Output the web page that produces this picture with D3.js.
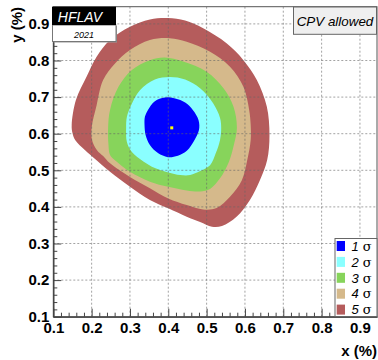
<!DOCTYPE html>
<html>
<head>
<meta charset="utf-8">
<script src="https://cdn.jsdelivr.net/npm/d3@7"></script>
<style>
body { margin: 0; background: #fff; }
svg { display: block; font-family: "Liberation Sans", Arial, Helvetica, sans-serif; }
</style>
</head>
<body>
<svg id="chart" width="378" height="360"></svg>
<script>
// contour outlines, [x (%), y (%)]
const sigma5 = [[0.148,0.624],[0.150,0.602],[0.157,0.583],[0.183,0.555],[0.209,0.531],[0.248,0.496],
  [0.300,0.455],[0.352,0.419],[0.400,0.396],[0.448,0.373],[0.483,0.359],[0.514,0.346],[0.540,0.348],
  [0.578,0.373],[0.613,0.419],[0.639,0.473],[0.658,0.528],[0.664,0.596],[0.657,0.674],[0.631,0.747],
  [0.596,0.801],[0.552,0.847],[0.491,0.888],[0.444,0.909],[0.399,0.916],[0.352,0.912],[0.300,0.892],
  [0.248,0.856],[0.213,0.810],[0.187,0.756],[0.159,0.692]];
const sigma4 = [[0.200,0.616],[0.201,0.583],[0.214,0.555],[0.230,0.539],[0.248,0.519],[0.300,0.482],
  [0.352,0.451],[0.400,0.423],[0.448,0.405],[0.491,0.393],[0.526,0.397],[0.561,0.428],[0.592,0.473],
  [0.606,0.528],[0.615,0.583],[0.615,0.624],[0.611,0.665],[0.596,0.728],[0.561,0.783],[0.509,0.824],
  [0.448,0.851],[0.404,0.861],[0.352,0.856],[0.300,0.829],[0.261,0.792],[0.230,0.747],[0.213,0.678]];
const sigma3 = [[0.243,0.616],[0.244,0.569],[0.248,0.542],[0.264,0.525],[0.300,0.496],[0.352,0.469],
  [0.400,0.455],[0.448,0.445],[0.483,0.442],[0.509,0.449],[0.535,0.478],[0.558,0.523],[0.571,0.569],
  [0.579,0.616],[0.570,0.674],[0.544,0.724],[0.500,0.769],[0.439,0.797],[0.391,0.808],[0.352,0.801],
  [0.305,0.774],[0.270,0.728],[0.248,0.665]];
const sigma2 = [[0.290,0.616],[0.292,0.577],[0.305,0.550],[0.335,0.524],[0.365,0.506],[0.400,0.494],
  [0.431,0.487],[0.457,0.487],[0.483,0.498],[0.509,0.514],[0.524,0.547],[0.535,0.583],[0.538,0.616],
  [0.535,0.643],[0.517,0.683],[0.483,0.724],[0.444,0.748],[0.404,0.755],[0.365,0.748],[0.326,0.719],
  [0.303,0.678],[0.292,0.646]];
const sigma1 = [[0.338,0.624],[0.341,0.596],[0.352,0.569],[0.373,0.547],[0.399,0.536],[0.425,0.540],
  [0.449,0.554],[0.467,0.580],[0.480,0.610],[0.479,0.637],[0.464,0.665],[0.444,0.685],[0.418,0.696],
  [0.391,0.699],[0.365,0.689],[0.347,0.665],[0.339,0.646]];
const center = [0.409, 0.616];

const xTicks = [0.1, 0.2, 0.3, 0.4, 0.5, 0.6, 0.7, 0.8, 0.9];
const yTicks = [0.1, 0.2, 0.3, 0.4, 0.5, 0.6, 0.7, 0.8, 0.9];
const legendLabels = ["1", "2", "3", "4", "5"];

const fills = ["#0000ff", "#8affff", "#87d45b", "#d5b98b", "#b55c5c"];

const svg = d3.select("#chart");
const margin = {top: 6.7, right: 1, bottom: 43.3, left: 53.3};
const width = 378 - margin.left - margin.right;
const height = 360 - margin.top - margin.bottom;

const x = d3.scaleLinear().domain([0.1, 0.9445]).range([0, width]);
const y = d3.scaleLinear().domain([0.1, 0.947]).range([height, 0]);

const g = svg.append("g").attr("transform", `translate(${margin.left},${margin.top})`);

g.append("clipPath").attr("id", "clip")
  .append("rect").attr("width", width).attr("height", height);

const plot = g.append("g").attr("clip-path", "url(#clip)");

const line = d3.line().x(d => x(d[0])).y(d => y(d[1])).curve(d3.curveCatmullRomClosed.alpha(0.5));

// biggest first so the inner ones sit on top
[sigma5, sigma4, sigma3, sigma2, sigma1].forEach((c, i) => {
  plot.append("path").datum(c).attr("d", line).attr("fill", fills[4 - i]).attr("stroke", "none");
});

plot.append("rect")
  .attr("x", x(center[0]) - 1.5).attr("y", y(center[1]) - 1.5)
  .attr("width", 3).attr("height", 3).attr("fill", "#ffff00");

// dotted grid, drawn over the fills
plot.selectAll(".gx").data(xTicks.slice(1)).join("line")
  .attr("x1", d => x(d)).attr("x2", d => x(d)).attr("y1", 0).attr("y2", height)
  .attr("stroke", "#666").attr("stroke-opacity", 0.6).attr("stroke-dasharray", "2,2");
plot.selectAll(".gy").data(yTicks.slice(1)).join("line")
  .attr("y1", d => y(d)).attr("y2", d => y(d)).attr("x1", 0).attr("x2", width)
  .attr("stroke", "#666").attr("stroke-opacity", 0.6).attr("stroke-dasharray", "2,2");

g.append("rect").attr("width", width).attr("height", height)
  .attr("fill", "none").attr("stroke", "#555");

// axes: major ticks inward, minor ticks in between
const minor = d3.range(0.1, 0.941, 0.02).filter(v => Math.abs(v * 10 - Math.round(v * 10)) > 0.01);

g.append("g").attr("transform", `translate(0,${height})`)
  .call(d3.axisBottom(x).tickValues(xTicks).tickFormat(d3.format(".1f")).tickSizeInner(-8).tickSizeOuter(0).tickPadding(6));
g.append("g").attr("transform", `translate(0,${height})`)
  .call(d3.axisBottom(x).tickValues(minor).tickFormat("").tickSizeInner(-4).tickSizeOuter(0));

g.append("g")
  .call(d3.axisLeft(y).tickValues(yTicks).tickFormat(d3.format(".1f")).tickSizeInner(-8).tickSizeOuter(0).tickPadding(4));
g.append("g")
  .call(d3.axisLeft(y).tickValues(minor).tickFormat("").tickSizeInner(-4).tickSizeOuter(0));

g.selectAll(".domain").attr("stroke", "#444");
g.selectAll(".tick line").attr("stroke", "#444");
g.selectAll(".tick text").attr("font-size", 15).attr("font-weight", "bold")
  .attr("font-family", "'Liberation Sans', Arial, sans-serif").attr("fill", "#000");

// axis titles
svg.append("text").attr("x", 377).attr("y", 356).attr("text-anchor", "end")
  .attr("font-size", 15).attr("font-weight", "bold").text("x (%)");
svg.append("text").attr("transform", "translate(21.5,7) rotate(-90)").attr("text-anchor", "end")
  .attr("font-size", 15).attr("font-weight", "bold").text("y (%)");

// HFLAV logo
svg.append("rect").attr("x", 53.5).attr("y", 26).attr("width", 63.5).attr("height", 16.5).attr("fill", "#999");
svg.append("rect").attr("x", 52.5).attr("y", 25).attr("width", 63.5).attr("height", 16.5)
  .attr("fill", "#fff").attr("stroke", "#777");
svg.append("rect").attr("x", 52).attr("y", 6.7).attr("width", 64).attr("height", 18.3).attr("fill", "#000");
svg.append("text").attr("x", 80).attr("y", 21.5).attr("text-anchor", "middle")
  .attr("font-size", 14).attr("font-style", "italic").attr("fill", "#fff").text("HFLAV");
svg.append("text").attr("x", 84).attr("y", 37.7).attr("text-anchor", "middle")
  .attr("font-size", 9).attr("font-style", "italic").attr("fill", "#000").text("2021");

// CPV allowed label
svg.append("rect").attr("x", 293.5).attr("y", 7).attr("width", 83).attr("height", 27.3)
  .attr("fill", "#efefef").attr("stroke", "#666");
svg.append("text").attr("x", 335).attr("y", 26).attr("text-anchor", "middle")
  .attr("font-size", 13.4).attr("font-style", "italic").text("CPV allowed");

// legend
const leg = svg.append("g").attr("transform", "translate(335,238.5)");
leg.append("rect").attr("width", 42).attr("height", 78).attr("fill", "#fff").attr("stroke", "#666");
const rows = leg.selectAll(".row").data(legendLabels).join("g")
  .attr("transform", (d, i) => `translate(0,${7.5 + i * 15.9})`);
rows.append("rect").attr("x", 1.7).attr("y", -5).attr("width", 8.3).attr("height", 10)
  .attr("fill", (d, i) => fills[i]);
const lt = rows.append("text").attr("x", 16.5).attr("y", 4.7).attr("font-size", 13);
lt.append("tspan").attr("font-style", "italic").text(d => d);
lt.append("tspan").attr("font-family", "'DejaVu Serif', serif").attr("dx", 4).text("σ");
</script>
</body>
</html>
